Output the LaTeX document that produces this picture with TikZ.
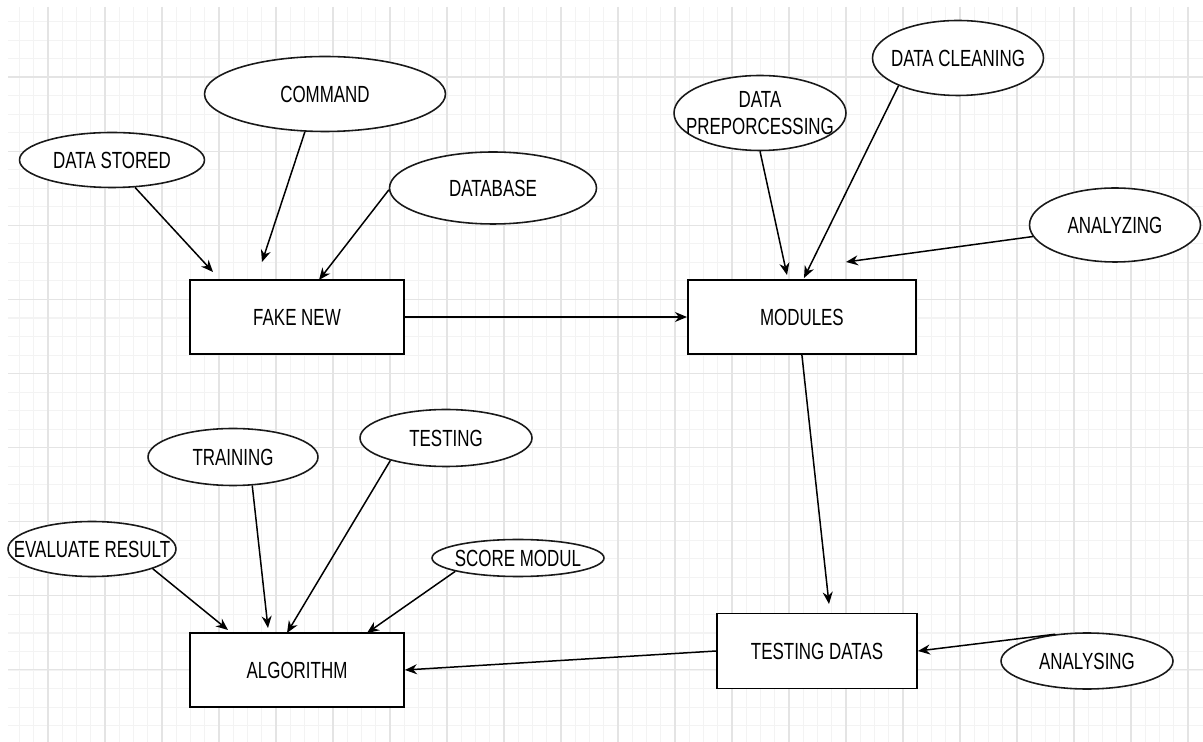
\documentclass[tikz,border=0pt]{standalone}
\usepackage{fontspec}
\setmainfont[FakeStretch=0.725]{Liberation Sans}
\usepackage{xcolor}
\usepackage{tikz}
\usetikzlibrary{arrows.meta,shapes.geometric,positioning}
\definecolor{gridlight}{HTML}{F3F3F3}
\definecolor{griddark}{HTML}{E4E4E4}

\begin{document}
\begin{tikzpicture}[x=0.02cm,y=-0.02cm,node distance=10.1cm,inner sep=0pt,
  font=\fontsize{13.3pt}{15.4pt}\selectfont,
  box/.style={rectangle,draw=black,line width=1.1pt,fill=white,minimum width=4.28cm,minimum height=1.48cm},
  oval/.style={ellipse,draw=black!90,line width=0.9pt,fill=white,minimum width=3.44cm,minimum height=1.14cm},
  link/.style={-{Stealth[length=0.24cm,width=0.2cm]},line width=0.85pt},
  gridthin/.style={draw=gridlight,line width=0.6pt},
  gridthick/.style={draw=griddark,line width=0.6pt}]

\useasboundingbox (0,0) rectangle (1203,742);
% grid
\begin{scope}
\clip (8,7) rectangle (1203,742);
\foreach \i in {1,...,83} \draw[gridthin] ({5.25+14.25*\i},7) -- ({5.25+14.25*\i},742);
\foreach \j in {1,...,40} \draw[gridthin] (8,{3+18.53*\j}) -- (1203,{3+18.53*\j});
\foreach \i in {0,...,20} \draw[gridthick] ({48+57*\i},7) -- ({48+57*\i},742);
\foreach \j in {0,...,8} \draw[gridthick] (8,{77+74.1*\j}) -- (1203,{77+74.1*\j});
\end{scope}

\node[box] (A) at (297,317) {FAKE NEW};
\node[box,minimum width=4.56cm] (B) [right of = A] {MODULES};
\node[box,minimum width=4cm,minimum height=1.5cm] (C) at (817,651) {TESTING DATAS};
\node[box] (D) at (297,670) {ALGORITHM};

\node[oval,minimum width=3.7cm,minimum height=1.1cm,label=center:{DATA STORED}] (E) at (112,160) {};
\node[oval,minimum width=4.82cm,minimum height=1.5cm,label=center:{COMMAND}] (F) at (325,94) {};
\node[oval,minimum width=4.14cm,minimum height=1.44cm,label=center:{DATABASE}] (G) at (493,188) {};
\node[oval,minimum height=1.5cm,label={[align=center]center:DATA\\PREPORCESSING}] (H) at (760,113) {};
\node[oval,minimum width=3.42cm,minimum height=1.5cm,label=center:{DATA CLEANING}] (I) at (958,58) {};
\node[oval,minimum width=3.42cm,minimum height=1.48cm,label=center:{ANALYZING}] (J) at (1115,225) {};
\node[oval,minimum height=1.12cm,label=center:{ANALYSING}] (K) at (1087,661) {};
\node[oval,minimum width=3.4cm,label=center:{TRAINING}] (L) at (233,457) {};
\node[oval,label=center:{TESTING}] (M) at (446,438) {};
\node[oval,minimum width=3.36cm,minimum height=1.1cm,label=center:{EVALUATE RESULT}] (N) at (92,549) {};
\node[oval,minimum height=0.74cm,label=center:{SCORE MODUL}] (O) at (518,558) {};

\coordinate (a1) at (213,272);
\coordinate (a2) at (262,262);
\coordinate (a3) at (319,280);
\coordinate (b1) at (787,275);
\coordinate (b2) at (804,278);
\coordinate (b3) at (846,262);
\coordinate (b4) at (829,604);
\coordinate (d1) at (228,630);
\coordinate (d2) at (268,628);
\coordinate (d3) at (287,633);
\coordinate (d4) at (367,633);

\path (E.310) edge [link] (a1);
\path (F.242) edge [link] (a2);
\path (G.181) edge [link] (a3);
\path (A) edge [link] (B);
\path (H.270) edge [link] (b1);
\path (I.205) edge [link] (b2);
\path (J.188) edge [link] (b3);
\path (B.south) edge [link] (b4);
\path (K.140) edge [link] (C.east);
\path (C.west) edge [link] (D.east);
\path (N.342) edge [link] (d1);
\path (L.304) edge [link] (d2);
\path (M.202) edge [link] (d3);
\path (O.192) edge [link] (d4);

\end{tikzpicture}
\end{document}
